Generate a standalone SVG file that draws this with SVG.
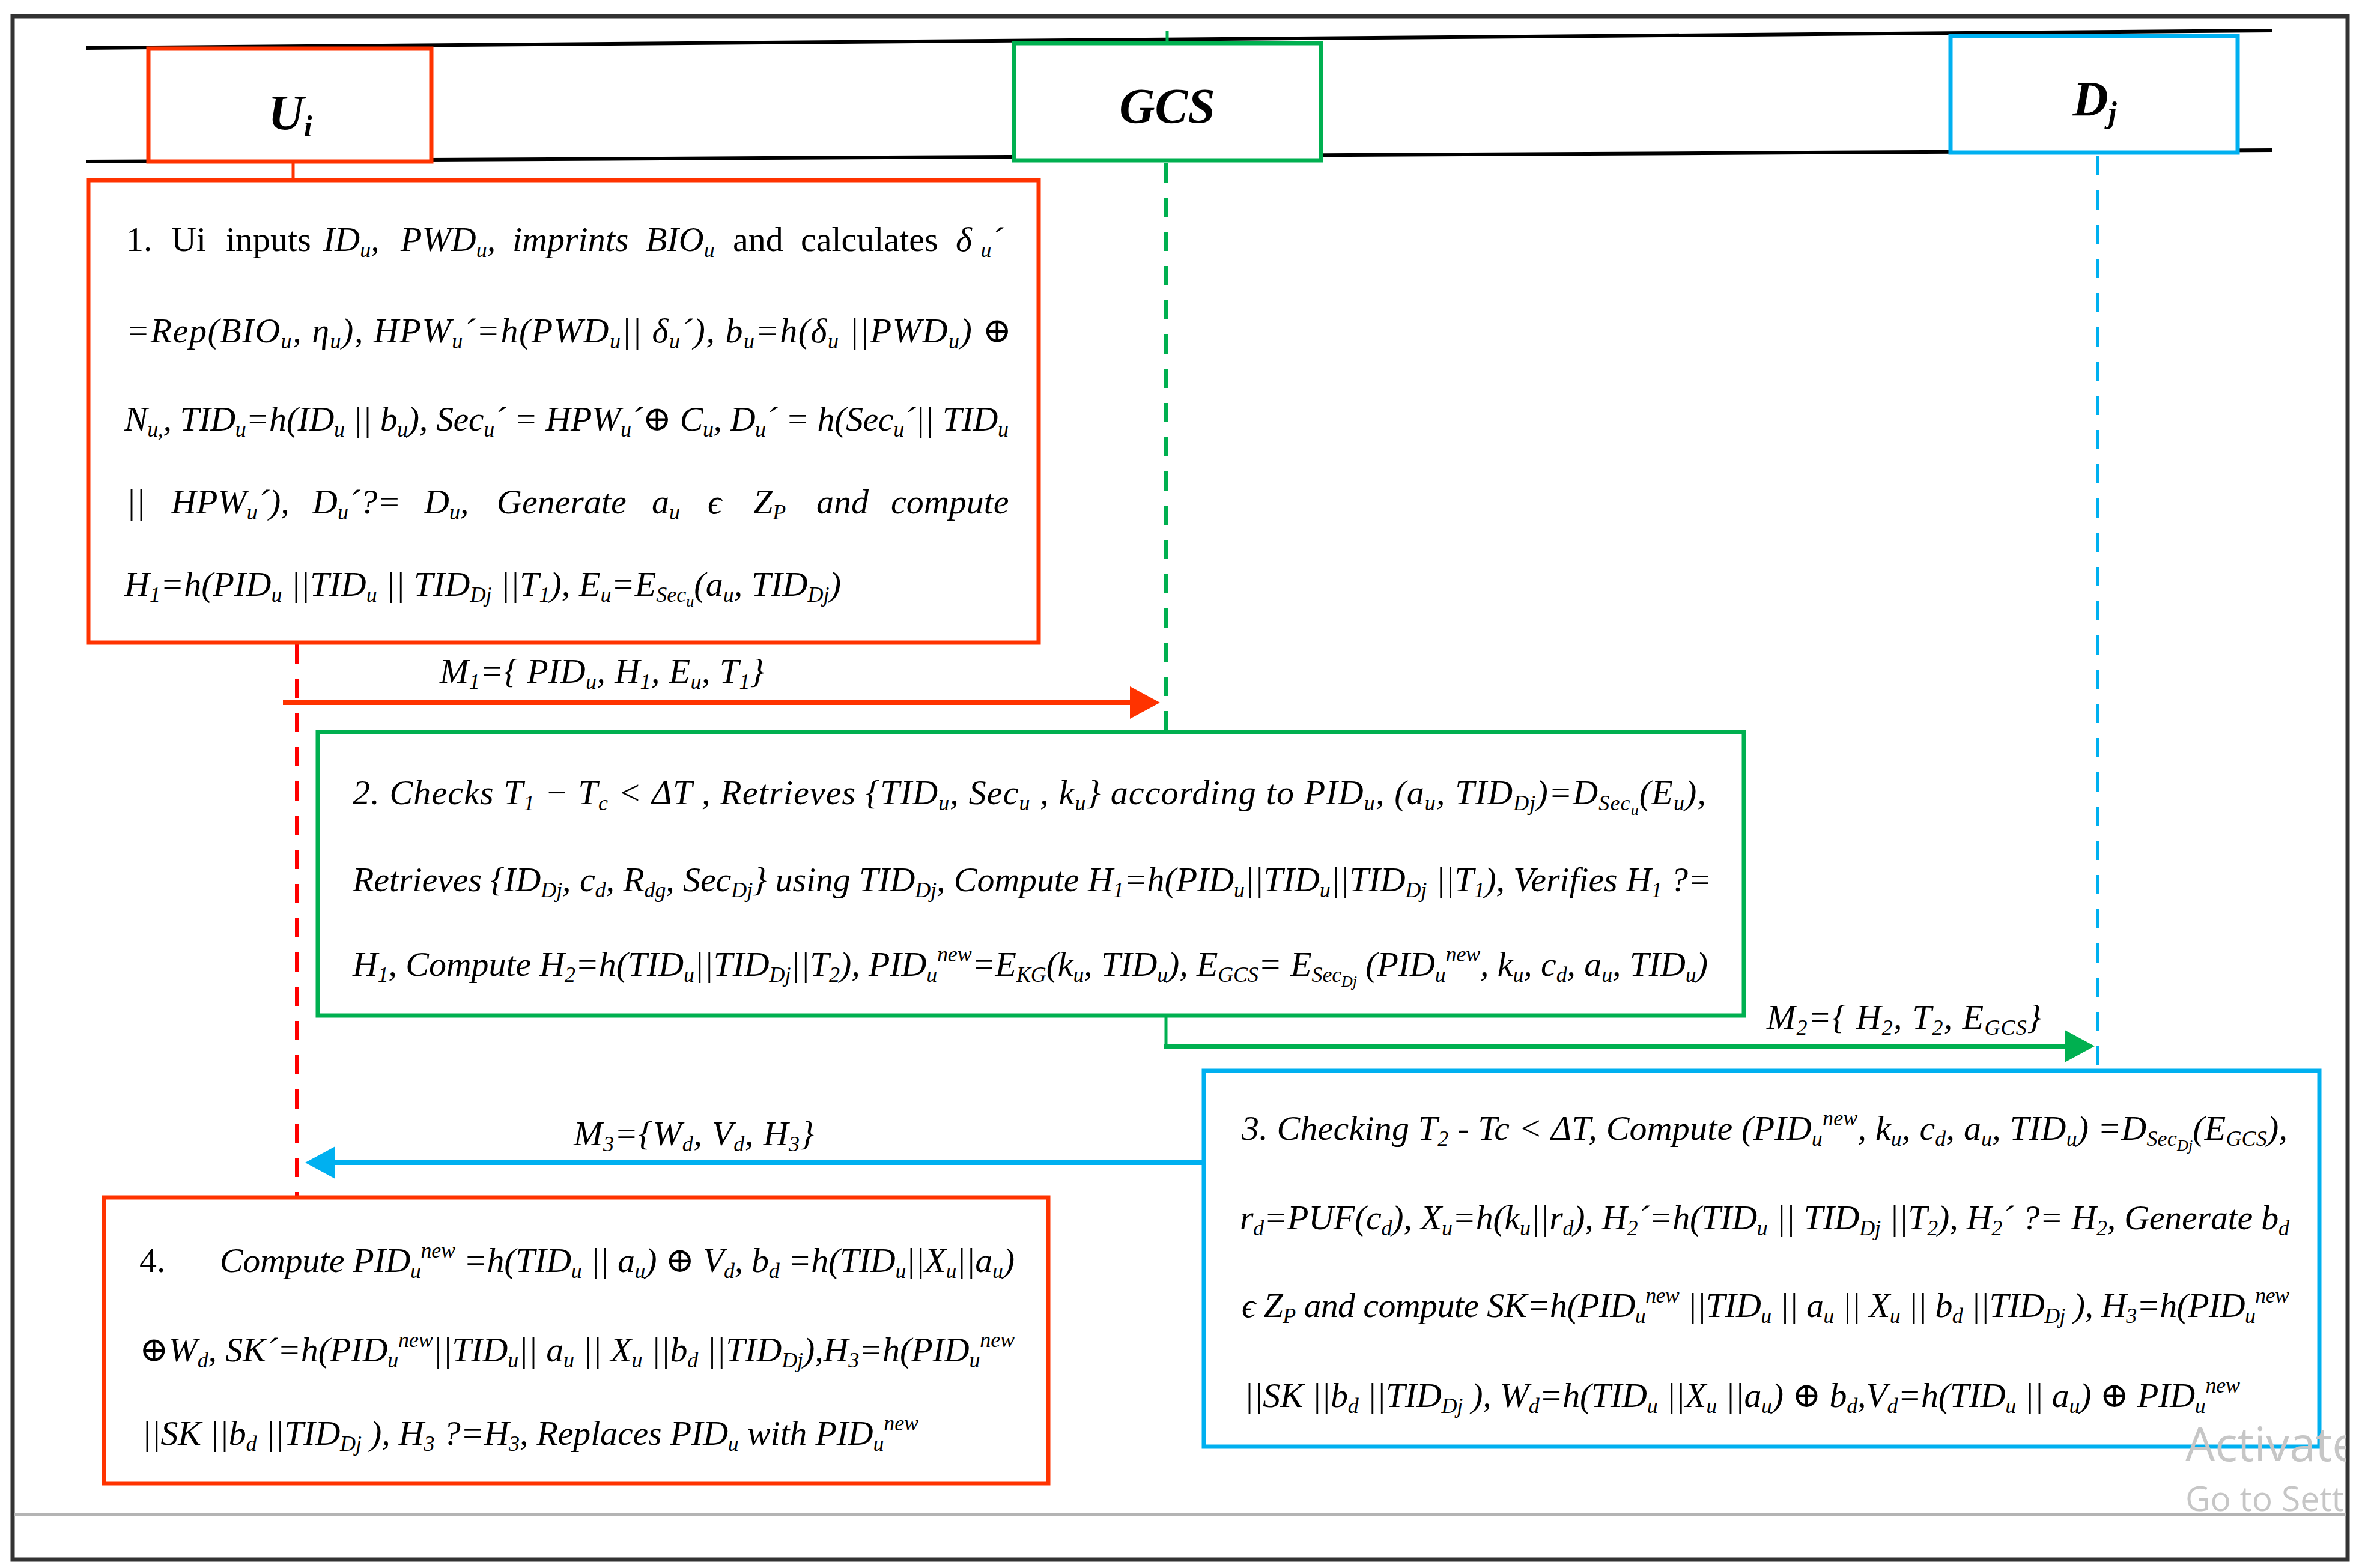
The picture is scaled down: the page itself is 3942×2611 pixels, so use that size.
<svg xmlns="http://www.w3.org/2000/svg" width="3942" height="2611" viewBox="0 0 3942 2611">
<defs>
<style>
.frame{fill:none;stroke:#333;stroke-width:7}
.hdr{stroke:#000;stroke-width:6;fill:none}
.box{fill:#fff;stroke-width:7}
.red{stroke:#FF3300}
.grn{stroke:#00B050}
.blu{stroke:#00B0F0}
.ll{fill:none;stroke-width:6;stroke-dasharray:32 25}
.solid{fill:none;stroke-width:5}
.msg{fill:none;stroke-width:8}
.t{font-family:"Liberation Serif","DejaVu Serif",serif;font-size:58px;font-style:italic;fill:#000}
.up{font-style:normal}
.s{font-size:36px;baseline-shift:-10px}
.ss{font-size:26px;baseline-shift:-18px}
.p{font-size:36px;baseline-shift:24px}
.h{font-family:"Liberation Serif","DejaVu Serif",serif;font-weight:bold;font-style:italic;font-size:82px;text-anchor:middle;fill:#000}
.hs{font-size:50px;baseline-shift:-12px}
.wm{font-family:"Open Sans","Noto Sans",sans-serif;fill:#c6c6c6}
</style>
<marker id="ahR" markerUnits="userSpaceOnUse" markerWidth="50" markerHeight="54" refX="10" refY="27" orient="auto"><path d="M0,0 L50,27 L0,54 z" fill="#FF3300"/></marker>
<marker id="ahG" markerUnits="userSpaceOnUse" markerWidth="50" markerHeight="54" refX="10" refY="27" orient="auto"><path d="M0,0 L50,27 L0,54 z" fill="#00B050"/></marker>
<marker id="ahB" markerUnits="userSpaceOnUse" markerWidth="50" markerHeight="54" refX="10" refY="27" orient="auto"><path d="M0,0 L50,27 L0,54 z" fill="#00B0F0"/></marker>
<clipPath id="wmclip"><rect x="0" y="0" width="3905" height="2611"/></clipPath>
</defs>
<rect width="3942" height="2611" fill="#fff"/>
<g id="frame">
<rect class="frame" x="21" y="27" width="3887" height="2570"/>
<line x1="24" y1="2522" x2="3905" y2="2522" stroke="#b4b4b4" stroke-width="5"/>
<line class="hdr" x1="143" y1="80" x2="3783" y2="51"/>
<line class="hdr" x1="143" y1="269" x2="3783" y2="250"/>
</g>
<g id="connectors">
<line class="solid red" x1="488" y1="272" x2="488" y2="298"/>
<line class="ll" stroke="#FF0000" x1="494" y1="1073" x2="494" y2="1991"/>
<line class="solid grn" x1="1943" y1="52" x2="1943" y2="70"/>
<line class="ll grn" x1="1941" y1="272" x2="1941" y2="1215"/>
<line class="solid grn" x1="1941" y1="1692" x2="1941" y2="1742"/>
<line class="ll blu" x1="3492" y1="260" x2="3492" y2="1781"/>
<line class="msg red" x1="471" y1="1170" x2="1891" y2="1170" marker-end="url(#ahR)"/>
<line class="msg grn" x1="1937" y1="1742" x2="3447" y2="1742" marker-end="url(#ahG)"/>
<line class="msg blu" x1="2004" y1="1936" x2="548" y2="1936" marker-end="url(#ahB)"/>
<text class="t" x="732" y="1137" textLength="540">M<tspan class="s">1</tspan>={ PID<tspan class="s">u</tspan>, H<tspan class="s">1</tspan>, E<tspan class="s">u</tspan>, T<tspan class="s">1</tspan>}</text>
<text class="t" x="2941" y="1713" textLength="457">M<tspan class="s">2</tspan>={ H<tspan class="s">2</tspan>, T<tspan class="s">2</tspan>, E<tspan class="s">GCS</tspan>}</text>
<text class="t" x="955" y="1907" textLength="400">M<tspan class="s">3</tspan>={W<tspan class="s">d</tspan>, V<tspan class="s">d</tspan>, H<tspan class="s">3</tspan>}</text>
</g>
<g id="Ui">
<rect class="box red" x="247" y="81" width="471" height="188"/>
<text class="h" x="483" y="215">U<tspan class="hs">i</tspan></text>
</g>
<g id="GCS">
<rect class="box grn" x="1688" y="72" width="511" height="195"/>
<text class="h" x="1943" y="204" font-size="78">GCS</text>
</g>
<g id="Dj">
<rect class="box blu" x="3247" y="60" width="478" height="194"/>
<text class="h" x="3487" y="192">D<tspan class="hs">j</tspan></text>
</g>
<g id="step1">
<rect class="box red" x="147" y="300" width="1582" height="770"/>
<text class="t" y="418"><tspan class="up" x="210">1.</tspan><tspan class="up" x="285">Ui</tspan><tspan class="up" x="376">inputs</tspan><tspan x="538">ID</tspan><tspan class="s">u</tspan>,<tspan x="667">PWD</tspan><tspan class="s">u</tspan>,<tspan x="853">imprints</tspan><tspan x="1075">BIO</tspan><tspan class="s">u</tspan><tspan class="up" x="1220">and</tspan><tspan class="up" x="1333">calculates</tspan><tspan x="1591">δ </tspan><tspan class="s">u</tspan>´</text>
<text class="t" x="210" y="570" textLength="1474">=Rep(BIO<tspan class="s">u</tspan>, η<tspan class="s">u</tspan>), HPW<tspan class="s">u</tspan>´=h(PWD<tspan class="s">u</tspan>|| δ<tspan class="s">u</tspan>´), b<tspan class="s">u</tspan>=h(δ<tspan class="s">u</tspan> ||PWD<tspan class="s">u</tspan>) ⊕</text>
<text class="t" x="207" y="717" textLength="1472">N<tspan class="s">u,</tspan>, TID<tspan class="s">u</tspan>=h(ID<tspan class="s">u</tspan> || b<tspan class="s">u</tspan>), Sec<tspan class="s">u</tspan>´ = HPW<tspan class="s">u</tspan>´⊕ C<tspan class="s">u</tspan>, D<tspan class="s">u</tspan>´ = h(Sec<tspan class="s">u</tspan>´|| TID<tspan class="s">u</tspan></text>
<text class="t" y="855"><tspan x="210">||</tspan><tspan x="285">HPW</tspan><tspan class="s">u</tspan>´),<tspan x="520">D</tspan><tspan class="s">u</tspan>´?=<tspan x="706">D</tspan><tspan class="s">u</tspan>,<tspan x="827">Generate</tspan><tspan x="1085">a</tspan><tspan class="s">u</tspan><tspan x="1178">ϵ</tspan><tspan x="1254">Z</tspan><tspan class="s">P</tspan><tspan x="1359">and</tspan><tspan x="1483">compute</tspan></text>
<text class="t" x="207" y="992" textLength="1193">H<tspan class="s">1</tspan>=h(PID<tspan class="s">u</tspan> ||TID<tspan class="s">u</tspan> || TID<tspan class="s">Dj</tspan> ||T<tspan class="s">1</tspan>), E<tspan class="s">u</tspan>=E<tspan class="s">Sec</tspan><tspan class="ss">u</tspan>(a<tspan class="s">u</tspan>, TID<tspan class="s">Dj</tspan>)</text>
</g>
<g id="step2">
<rect class="box grn" x="529" y="1219" width="2374" height="472"/>
<text class="t" x="587" y="1339" textLength="2253">2. Checks T<tspan class="s">1</tspan> − T<tspan class="s">c</tspan> &lt; ΔT , Retrieves {TID<tspan class="s">u</tspan>, Sec<tspan class="s">u</tspan> , k<tspan class="s">u</tspan>} according to PID<tspan class="s">u</tspan>, (a<tspan class="s">u</tspan>, TID<tspan class="s">Dj</tspan>)=D<tspan class="s">Sec</tspan><tspan class="ss">u</tspan>(E<tspan class="s">u</tspan>),</text>
<text class="t" x="587" y="1484" textLength="2262">Retrieves {ID<tspan class="s">Dj</tspan>, c<tspan class="s">d</tspan>, R<tspan class="s">dg</tspan>, Sec<tspan class="s">Dj</tspan>} using TID<tspan class="s">Dj</tspan>, Compute H<tspan class="s">1</tspan>=h(PID<tspan class="s">u</tspan>||TID<tspan class="s">u</tspan>||TID<tspan class="s">Dj</tspan> ||T<tspan class="s">1</tspan>), Verifies H<tspan class="s">1</tspan> ?=</text>
<text class="t" x="587" y="1625" textLength="2256">H<tspan class="s">1</tspan>, Compute H<tspan class="s">2</tspan>=h(TID<tspan class="s">u</tspan>||TID<tspan class="s">Dj</tspan>||T<tspan class="s">2</tspan>), PID<tspan class="s">u</tspan><tspan class="p">new</tspan>=E<tspan class="s">KG</tspan>(k<tspan class="s">u</tspan>, TID<tspan class="s">u</tspan>), E<tspan class="s">GCS</tspan>= E<tspan class="s">Sec</tspan><tspan class="ss">Dj</tspan> (PID<tspan class="s">u</tspan><tspan class="p">new</tspan>, k<tspan class="s">u</tspan>, c<tspan class="s">d</tspan>, a<tspan class="s">u</tspan>, TID<tspan class="s">u</tspan>)</text>
</g>
<g id="step3">
<rect class="box blu" x="2004" y="1783" width="1857" height="626"/>
<text class="t" x="2067" y="1898" textLength="1741">3. Checking T<tspan class="s">2</tspan> - Tc &lt; ΔT, Compute (PID<tspan class="s">u</tspan><tspan class="p">new</tspan>, k<tspan class="s">u</tspan>, c<tspan class="s">d</tspan>, a<tspan class="s">u</tspan>, TID<tspan class="s">u</tspan>) =D<tspan class="s">Sec</tspan><tspan class="ss">Dj</tspan>(E<tspan class="s">GCS</tspan>),</text>
<text class="t" x="2064" y="2047" textLength="1747">r<tspan class="s">d</tspan>=PUF(c<tspan class="s">d</tspan>), X<tspan class="s">u</tspan>=h(k<tspan class="s">u</tspan>||r<tspan class="s">d</tspan>), H<tspan class="s">2</tspan>´=h(TID<tspan class="s">u</tspan> || TID<tspan class="s">Dj</tspan> ||T<tspan class="s">2</tspan>), H<tspan class="s">2</tspan>´ ?= H<tspan class="s">2</tspan>, Generate b<tspan class="s">d</tspan></text>
<text class="t" x="2067" y="2193" textLength="1744">ϵ  Z<tspan class="s">P</tspan> and compute SK=h(PID<tspan class="s">u</tspan><tspan class="p">new</tspan> ||TID<tspan class="s">u</tspan> || a<tspan class="s">u</tspan> || X<tspan class="s">u</tspan> || b<tspan class="s">d</tspan> ||TID<tspan class="s">Dj</tspan> ), H<tspan class="s">3</tspan>=h(PID<tspan class="s">u</tspan><tspan class="p">new</tspan></text>
<text class="t" x="2071" y="2343" textLength="1658">||SK ||b<tspan class="s">d</tspan> ||TID<tspan class="s">Dj</tspan> ), W<tspan class="s">d</tspan>=h(TID<tspan class="s">u</tspan> ||X<tspan class="s">u</tspan> ||a<tspan class="s">u</tspan>) ⊕ b<tspan class="s">d</tspan>,V<tspan class="s">d</tspan>=h(TID<tspan class="s">u</tspan> || a<tspan class="s">u</tspan>) ⊕ PID<tspan class="s">u</tspan><tspan class="p">new</tspan></text>
</g>
<g id="step4">
<rect class="box red" x="173" y="1994" width="1572" height="476"/>
<text class="t up" x="232" y="2118">4.</text>
<text class="t" x="366" y="2118" textLength="1323">Compute PID<tspan class="s">u</tspan><tspan class="p">new</tspan> =h(TID<tspan class="s">u</tspan> || a<tspan class="s">u</tspan>) ⊕ V<tspan class="s">d</tspan>, b<tspan class="s">d</tspan> =h(TID<tspan class="s">u</tspan>||X<tspan class="s">u</tspan>||a<tspan class="s">u</tspan>)</text>
<text class="t" x="232" y="2267" textLength="1457">⊕W<tspan class="s">d</tspan>, SK´=h(PID<tspan class="s">u</tspan><tspan class="p">new</tspan>||TID<tspan class="s">u</tspan>|| a<tspan class="s">u</tspan> || X<tspan class="s">u</tspan> ||b<tspan class="s">d</tspan> ||TID<tspan class="s">Dj</tspan>),H<tspan class="s">3</tspan>=h(PID<tspan class="s">u</tspan><tspan class="p">new</tspan></text>
<text class="t" x="236" y="2406" textLength="1293">||SK ||b<tspan class="s">d</tspan> ||TID<tspan class="s">Dj</tspan> ), H<tspan class="s">3</tspan> ?=H<tspan class="s">3</tspan>, Replaces PID<tspan class="s">u</tspan> with PID<tspan class="s">u</tspan><tspan class="p">new</tspan></text>
</g>
<g id="watermark" clip-path="url(#wmclip)">
<text class="wm" x="3638" y="2433" font-size="78">Activate</text>
<text class="wm" x="3638" y="2516" font-size="57">Go to Sett</text>
</g>
</svg>
